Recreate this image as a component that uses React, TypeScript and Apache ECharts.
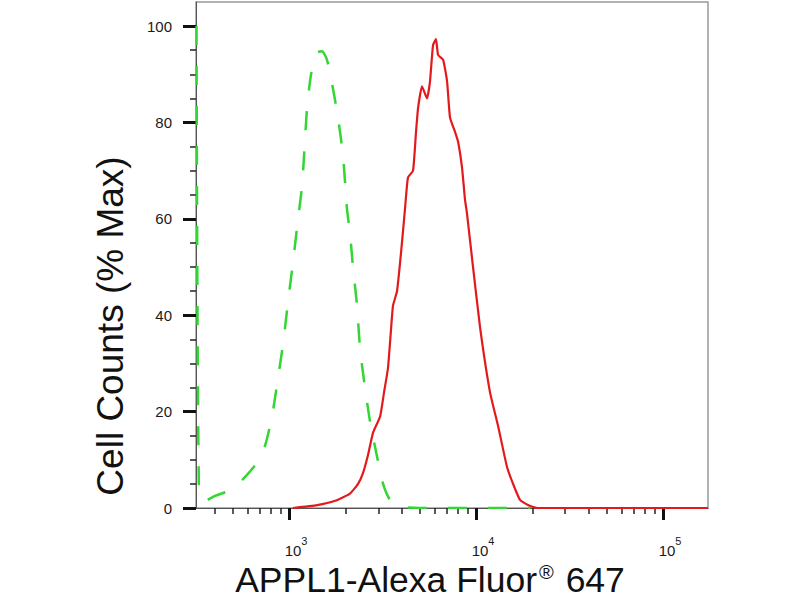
import { useEffect, useRef } from 'react';
import * as echarts from 'echarts';

// fluorescence intensity (x) and % max (y)
const greenX = [320, 330, 356, 402, 483, 561, 675, 745, 811, 873, 929, 989, 1050, 1117, 1175, 1248, 1312, 1413, 1500, 1596, 1718, 1828, 1945, 2042, 2118, 2198, 2310, 2398, 2547, 2710, 2958, 3184, 3467, 3926, 5020, 19450];
const greenY = [100, 3, 1.5, 2.5, 3.7, 5.8, 9.4, 13, 19, 27, 34, 43, 51, 60, 67, 83, 90, 94.5, 94.8, 93, 87, 81, 73, 62, 57, 50, 42, 33, 25, 18, 10.6, 5, 1.7, 0.3, 0, 0];

const redX = [1050, 1413, 1762, 2118, 2339, 2488, 2644, 2812, 3069, 3221, 3381, 3510, 3597, 3780, 3972, 4169, 4325, 4603, 4775, 4898, 5140, 5470, 5675, 5888, 6109, 6266, 6668, 6998, 7261, 7727, 8017, 8414, 8730, 8954, 9638, 10500, 11880, 13120, 14650, 15780, 17180, 18970, 21190, 174000];
const redY = [0, 0.6, 1.5, 3, 5, 7.3, 11, 15.6, 19, 24, 29, 37, 42, 45, 53, 62, 68.6, 70, 78, 83, 87.5, 85, 88.6, 96, 97.3, 94, 93, 88.6, 81, 78, 76, 70.7, 64, 61, 50, 37.6, 24, 17, 8.5, 5, 1.7, 0.6, 0, 0];

const xMajorTicks = [1000, 10000, 100000];
const xMinorTicks = [400, 500, 600, 700, 800, 900, 2000, 3000, 4000, 5000, 6000, 7000, 8000, 9000, 20000, 30000, 40000, 50000, 60000, 70000, 80000, 90000];
const yMajorTicks = [0, 20, 40, 60, 80, 100];
const yMinorTicks = [5, 10, 15, 25, 30, 35, 45, 50, 55, 65, 70, 75, 85, 90, 95];

const xTitle = 'APPL1-Alexa Fluor{sup|®} 647';
const yTitle = 'Cell Counts (% Max)';

const FONT = 'Liberation Sans, Arial, sans-serif';

export default function App() {
  const chartRef = useRef<HTMLDivElement>(null);

  useEffect(() => {
    if (!chartRef.current) return;
    const chart = echarts.init(chartRef.current, null, { renderer: 'svg' });

    const xMin = 318;
    const xMax = 174000;

    const option = {
      animation: false,
      backgroundColor: '#fff',
      grid: {
        left: 196,
        right: 92,
        top: 2,
        bottom: 92,
        show: true,
        borderColor: '#9a9a9a',
        borderWidth: 1.5
      },
      xAxis: [
        {
          type: 'log',
          logBase: 10,
          min: xMin,
          max: xMax,
          axisLine: { show: true, lineStyle: { color: '#555', width: 1 } },
          axisTick: {
            show: true,
            customValues: xMajorTicks,
            length: 12,
            lineStyle: { color: '#111', width: 3 }
          },
          axisLabel: {
            customValues: xMajorTicks,
            margin: 27,
            color: '#1a1a1a',
            fontFamily: FONT,
            fontSize: 15,
            padding: [0, 0, 0, 14],
            formatter: (v: number) => `{b|10}{sup|${Math.round(Math.log10(v))}}`,
            rich: {
              b: { fontSize: 15, fontFamily: FONT, color: '#1a1a1a', verticalAlign: 'bottom' },
              sup: { fontSize: 11, fontFamily: FONT, color: '#1a1a1a', verticalAlign: 'top', padding: [0, 0, 12, 0] }
            }
          },
          splitLine: { show: false },
          minorTick: { show: false }
        },
        {
          type: 'log',
          logBase: 10,
          min: xMin,
          max: xMax,
          position: 'bottom',
          axisLine: { show: false },
          axisTick: {
            show: true,
            customValues: xMinorTicks,
            length: 6,
            lineStyle: { color: '#222', width: 1.5 }
          },
          axisLabel: { show: false },
          splitLine: { show: false }
        }
      ],
      yAxis: [
        {
          type: 'value',
          min: 0,
          max: 105,
          axisLine: { show: true, lineStyle: { color: '#555', width: 1 } },
          axisTick: {
            show: true,
            customValues: yMajorTicks,
            length: 13,
            lineStyle: { color: '#111', width: 3 }
          },
          axisLabel: {
            customValues: yMajorTicks,
            margin: 24,
            color: '#1a1a1a',
            fontFamily: FONT,
            fontSize: 15
          },
          splitLine: { show: false }
        },
        {
          type: 'value',
          min: 0,
          max: 105,
          position: 'left',
          axisLine: { show: false },
          axisTick: {
            show: true,
            customValues: yMinorTicks,
            length: 6,
            lineStyle: { color: '#222', width: 1.5 }
          },
          axisLabel: { show: false },
          splitLine: { show: false }
        }
      ],
      series: [
        {
          name: 'control',
          type: 'line',
          xAxisIndex: 0,
          yAxisIndex: 0,
          data: greenX.map((x, i) => [x, greenY[i]]),
          showSymbol: false,
          smooth: 0.2,
          lineStyle: { color: '#33d633', width: 2.5, type: [19, 21] },
          z: 3
        },
        {
          name: 'APPL1',
          type: 'line',
          xAxisIndex: 0,
          yAxisIndex: 0,
          data: redX.map((x, i) => [x, redY[i]]),
          showSymbol: false,
          smooth: 0.15,
          lineStyle: { color: '#e3191c', width: 2.2 },
          z: 4
        }
      ],
      graphic: [
        {
          type: 'text',
          x: 110,
          y: 326,
          rotation: Math.PI / 2,
          style: {
            text: yTitle,
            fontSize: 37,
            fontFamily: FONT,
            fill: '#111',
            align: 'center',
            verticalAlign: 'middle'
          }
        },
        {
          type: 'text',
          x: 430,
          y: 580,
          style: {
            text: xTitle,
            fontSize: 35.5,
            fontFamily: FONT,
            fill: '#111',
            align: 'center',
            verticalAlign: 'middle',
            rich: {
              sup: { fontSize: 20, fontFamily: FONT, fill: '#111', verticalAlign: 'top', padding: [0, 2, 14, 2] }
            }
          }
        }
      ]
    };

    chart.setOption(option);

    return () => {
      chart.dispose();
    };
  }, []);

  return (
    <div style={{ position: 'fixed', left: 0, top: 0, width: 800, height: 600 }}>
      <div ref={chartRef} style={{ width: '100%', height: '100%' }}></div>
    </div>
  );
}
